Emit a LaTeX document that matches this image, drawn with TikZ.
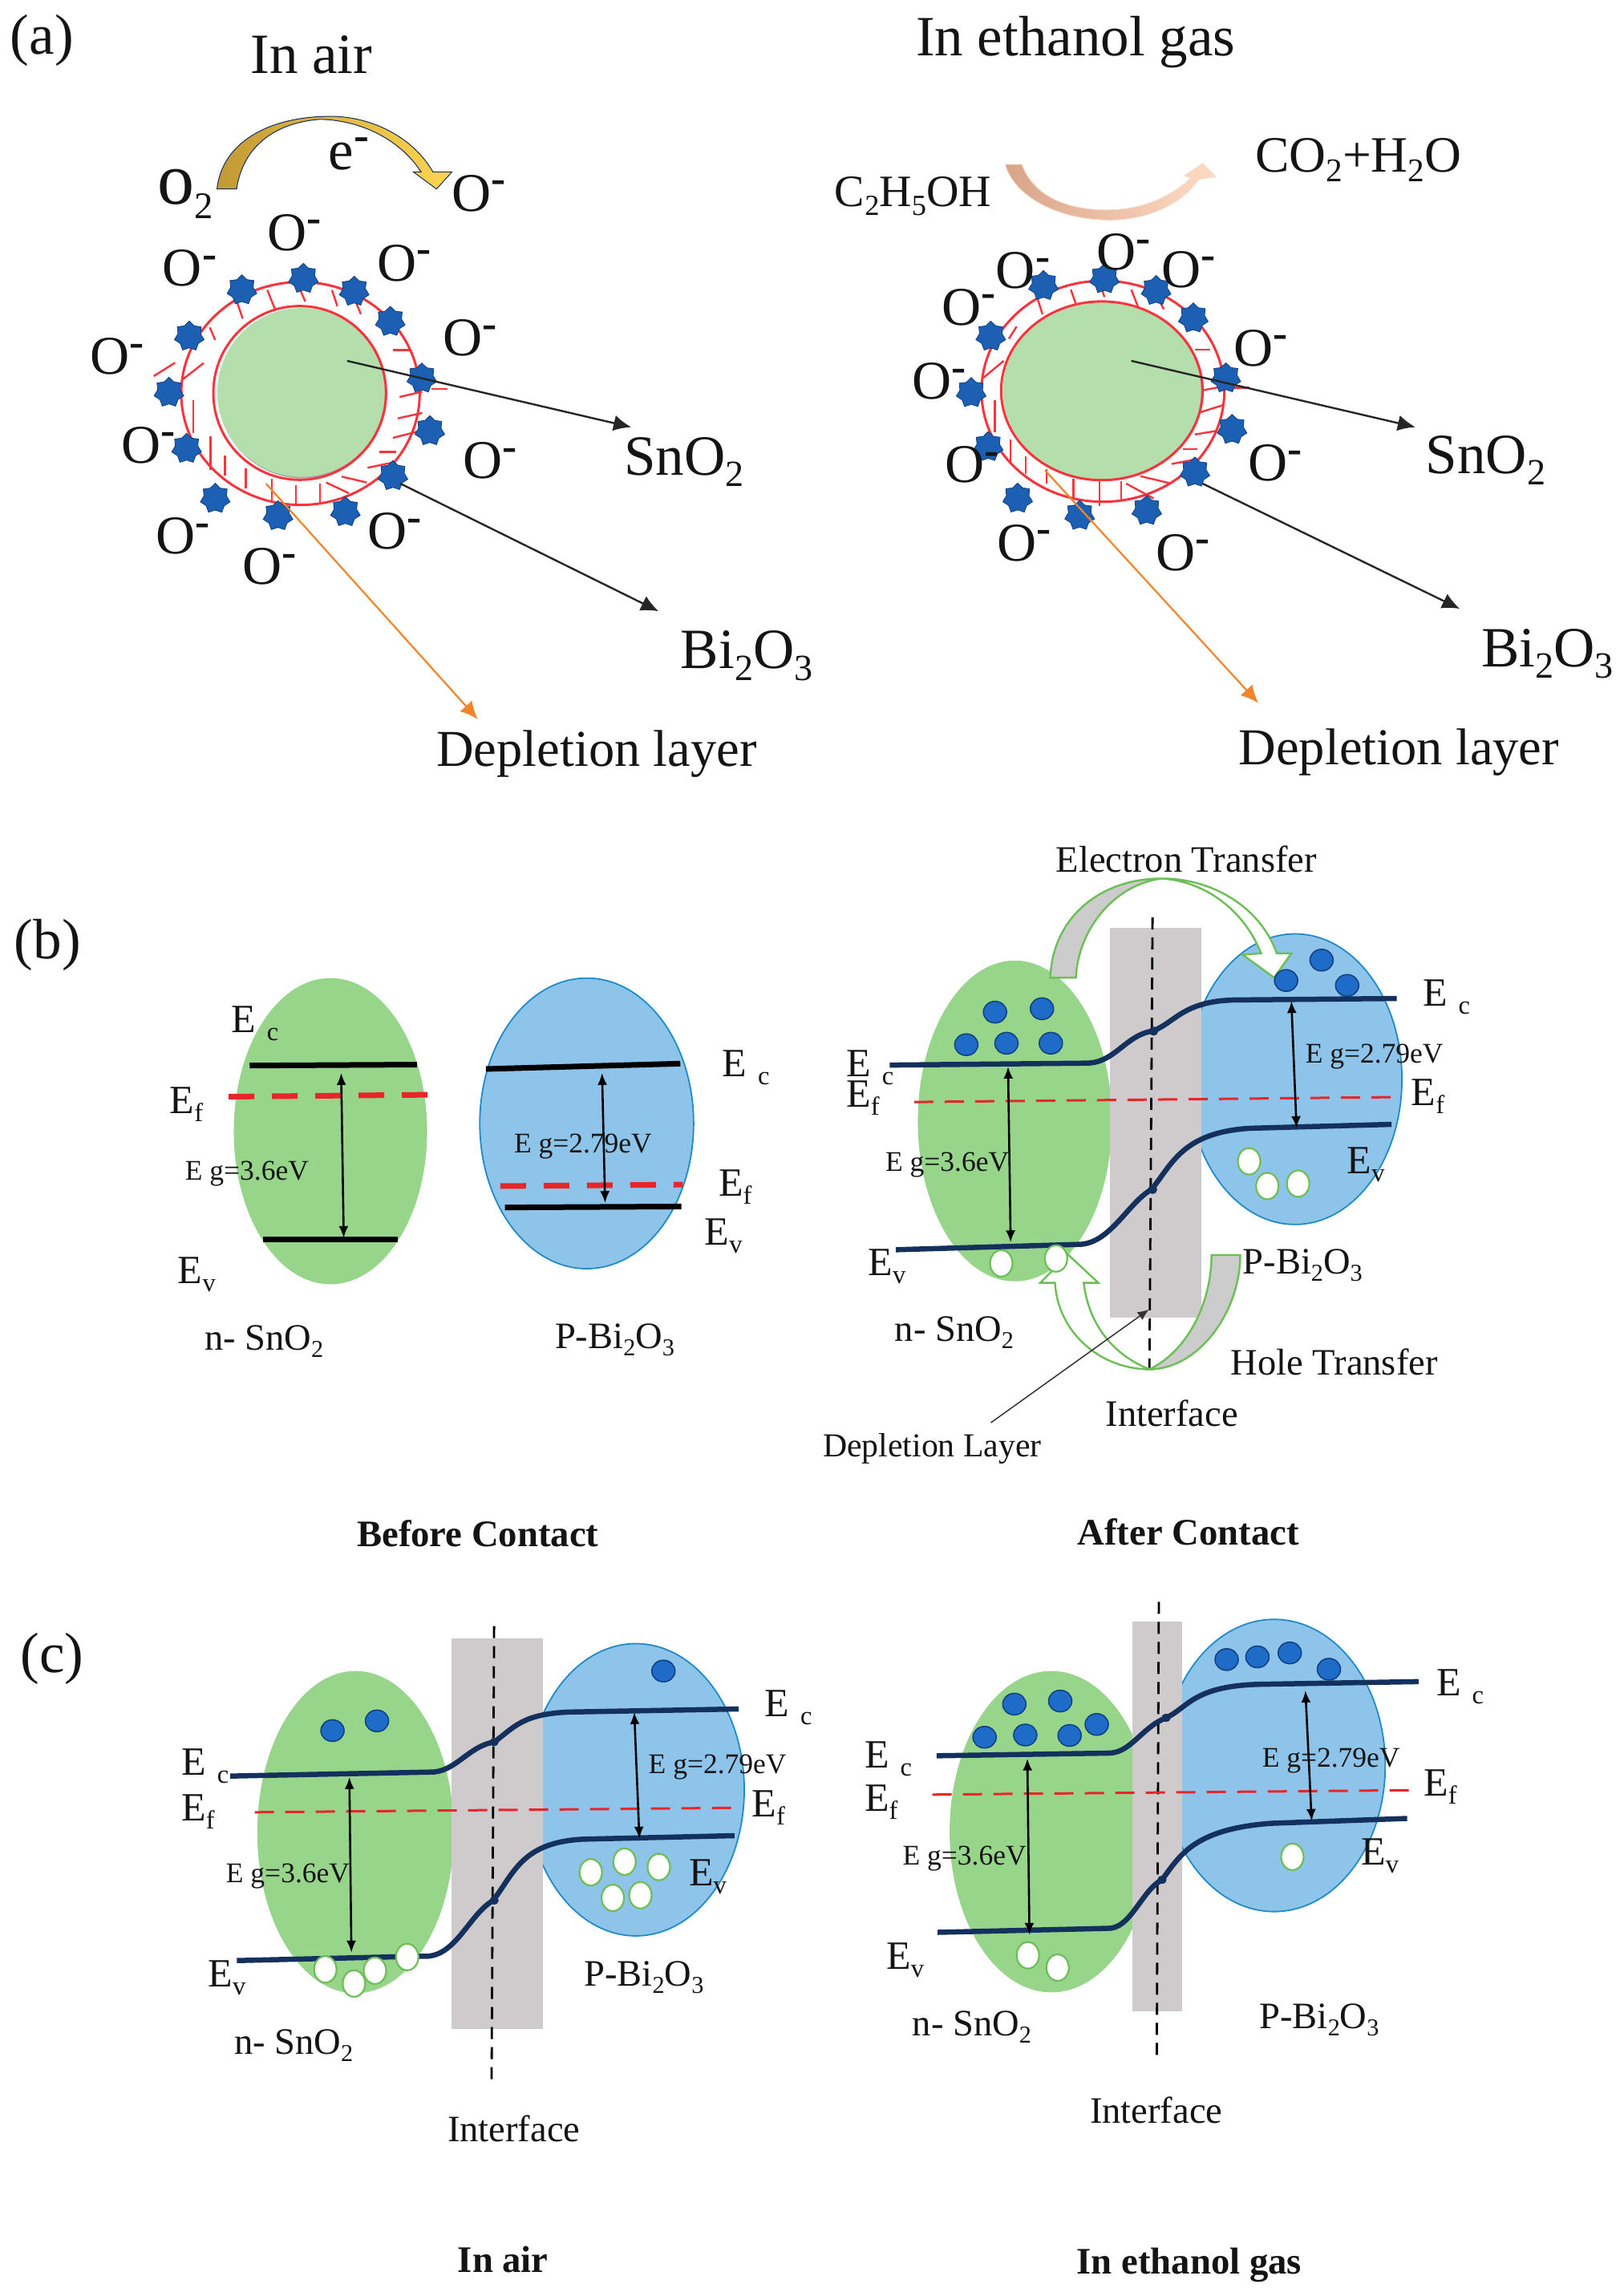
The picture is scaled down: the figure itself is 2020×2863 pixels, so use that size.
\documentclass[tikz,border=0pt]{standalone}
\usepackage{fontspec}
\setmainfont{Liberation Serif}
\usetikzlibrary{arrows.meta,shapes.geometric}
\definecolor{grn}{HTML}{97D58B}
\definecolor{core}{HTML}{B5DEAD}
\definecolor{blu}{HTML}{8EC4EA}
\definecolor{bluedge}{HTML}{1F8BC8}
\definecolor{gry}{HTML}{CFCBCC}
\definecolor{navy}{HTML}{14305C}
\definecolor{redl}{HTML}{E8262A}
\definecolor{ring}{HTML}{F8343C}
\definecolor{elec}{HTML}{1F6BC8}
\definecolor{elecd}{HTML}{0F3F80}
\definecolor{holeg}{HTML}{6CBF55}
\definecolor{orng}{HTML}{F4842A}
\definecolor{golda}{HTML}{C29A35}
\definecolor{goldb}{HTML}{FFD550}
\definecolor{peacha}{HTML}{D8A588}
\definecolor{peachb}{HTML}{FFDCC6}
\newcounter{tn}
\newcommand\dn[1]{\raisebox{-0.2em}{\scalebox{0.65}{#1}}}
\newcommand\up{\raisebox{0.33em}{\scalebox{0.8}{\bfseries -}}}
\newcommand\T[4]{\stepcounter{tn}\node[#1] (t\thetn) at (#2) {#3#4};}
\newcommand\Ec{E\hspace{0.28em}\dn{c}}
\newcommand\Ef{E\dn{f}}
\newcommand\Ev{E\dn{v}}
\newcommand\Sn{n- SnO\dn{2}}
\newcommand\Bi{P-Bi\dn{2}O\dn{3}}
\tikzset{
 base/.style={anchor=base west,inner sep=0pt,outer sep=0pt,text=black!92},
 big/.style={base,font=\fontsize{71}{80}\selectfont},
 oion/.style={base,font=\fontsize{68}{80}\selectfont},
 lab/.style={base,font=\fontsize{46.5}{52}\selectfont},
 dep/.style={base,font=\fontsize{41.8}{48}\selectfont},
 gap/.style={base,font=\fontsize{35.5}{40}\selectfont},
 en/.style={base,font=\fontsize{50}{56}\selectfont},
 hd/.style={base,font=\bfseries\fontsize{46.7}{52}\selectfont},
 za/.style={x=0.6441pt,y=-0.6122pt},
 zb/.style={shift={(1010,0)},x=0.6441pt,y=-0.6122pt},
 zc/.style={shift={(0,1050)},x=0.6378pt,y=-0.6059pt},
 zd/.style={shift={(1000,1030)},x=0.6505pt,y=-0.6059pt},
 ze/.style={shift={(0,2000)},x=0.6378pt,y=-0.5504pt},
 zf/.style={shift={(1000,2000)},x=0.6505pt,y=-0.5504pt},
 zg/.style={shift={(180,320)},x=0.3333pt,y=-0.3333pt},
 greenball/.style={fill=grn,draw=none},
 blueball/.style={fill=blu,draw=bluedge,line width=1.8pt},
 grayband/.style={fill=gry,draw=none},
 bandline/.style={draw=navy,line width=6.5pt},
 blackline/.style={draw=black,line width=7pt},
 fermi/.style={draw=redl,line width=3pt,dash pattern=on 24pt off 14pt},
 fermithick/.style={draw=redl,line width=7pt,dash pattern=on 32pt off 22pt},
 iface/.style={draw=black,line width=2.8pt,dash pattern=on 15pt off 10pt},
 gaparrow/.style={draw=black,line width=2.6pt,{Latex[length=15pt,width=12pt]}-{Latex[length=15pt,width=12pt]}},
 leader/.style={draw=black!85,line width=2.4pt,-{Latex[length=22pt,width=20pt]}},
 leaderor/.style={draw=orng,line width=2.2pt,-{Latex[length=22pt,width=20pt]}},
 hatch/.style={draw=ring,line width=2.4pt},
 ringl/.style={draw=ring,line width=3pt},
 ster/.style={star,star points=7,star point ratio=1.32,inner sep=0pt,minimum size=38pt,fill=elec!90!black,draw=elecd,line width=.8pt},
 elecn/.style={ellipse,inner sep=0pt,minimum width=29pt,minimum height=27pt,fill=elec,draw=elecd,line width=1.5pt},
 holen/.style={ellipse,inner sep=0pt,minimum width=28pt,minimum height=33pt,fill=white,draw=holeg,line width=2.2pt},
 bluntgreen/.style={draw=holeg,line width=2.4pt},
}
\newcommand\bump[2]{\fill[navy] (#1,#2) circle [radius=9];}
\begin{document}
\begin{tikzpicture}[x=1pt,y=-1pt]
\useasboundingbox[fill=white] (0,0) rectangle (2020,2863);

% ---------- panel (a), left
\begin{scope}[zg]
\fill[black!35] (592,512) ellipse [x radius=316,y radius=318];
\fill[core] (588,508) ellipse [x radius=315,y radius=316];
\draw[ringl] (581,510) ellipse [x radius=323,y radius=325];
\draw[ringl] (584,512) ellipse [x radius=446,y radius=417];
\foreach \a/\b/\c/\d in {345/165/368/232,460/125/488/195,575/105/602/168,702/125/722/185,785/155/810/215,890/240/910/285,930/350/995/350,245/265/265/312,35/447/115/397,145/458/222/398,183/538/183/660,248/672/248/797,302/745/302/820,380/792/380/868,477/832/477/912,567/855/567/930,657/848/657/925,680/845/765/885,738/823/832/845,835/790/930/770,880/730/942/730,930/678/1020/655,948/605/1040/585,955/525/1040/505,1075/495/1135/495}
  \draw[hatch] (\a,\b) -- (\c,\d);
\foreach \a/\b [count=\i] in {595/82,365/125,785/130,920/243,168/298,92/508,1038/455,1068/652,158/718,930/820,265/905,500/970,752/955}
  \node[ster] (sa\i) at (\a,\b) {};
\end{scope}
\begin{scope}[za]
\T{big}{20,110}{(a)}{}
\T{big}{485,150}{In air}{}
\T{base,font=\fontsize{92}{96}\selectfont}{305,415}{o\dn{\fontsize{72}{72}\selectfont 2}}{}
\T{big}{636,345}{e}{\up}
\foreach \a/\b in {875/430,517/510,315/583,730/572,857/725,175/762,235/943,897/975,302/1128,712/1118,470/1190}
  {\T{oion}{\a,\b}{O}{\up}}
\T{big}{1208,968}{SnO\dn{2}}{}
\T{big}{1318,1362}{Bi\dn{2}O\dn{3}}{}
\T{base,font=\fontsize{64.5}{70}\selectfont}{845,1560}{Depletion layer}{}
\fill[left color=golda,right color=goldb,draw=navy,line width=1pt]
 (420,385) .. controls (430,290) and (520,237) .. (640,237) .. controls (720,237) and (800,280) .. (838,350) -- (875,350) -- (845,385) -- (800,350) -- (815,350) .. controls (775,285) and (700,245) .. (620,243) .. controls (530,250) and (470,300) .. (458,385) -- cycle;
\coordinate (la1) at (672,735); \coordinate (la2) at (1222,870);
\coordinate (lb1) at (775,985); \coordinate (lb2) at (1275,1245);
\coordinate (lc1) at (515,985); \coordinate (lc2) at (925,1465);
\draw[leader] (la1) -- (la2);
\draw[leader] (lb1) -- (lb2);
\draw[leaderor] (lc1) -- (lc2);
\end{scope}

% ---------- panel (a), right
\begin{scope}[zb]
\fill[black!35] (567,798) ellipse [x radius=192,y radius=180];
\fill[core] (565,796) ellipse [x radius=192,y radius=180];
\draw[ringl] (565,796) ellipse [x radius=195,y radius=182];
\draw[ringl] (567,797) ellipse [x radius=235,y radius=225];
\foreach \a/\b/\c/\d in {438/600/450/640,505/590/515/620,562/578/570/605,622/590/635/625,670/600/685/630,722/650/735/670,745/712/775/712,385/690/400/665,335/770/375/735,358/815/358/880,388/895/388/945,418/930/418/965,458/955/458/985,510/975/510/1015,560/980/560/1030,602/980/602/1020,612/985/665/1015,640/970/700/985,700/945/750/935,722/915/750/915,745/885/785/878,755/840/800/825,760/795/810/785,820/790/850/790}
  \draw[hatch] (\a,\b) -- (\c,\d);
\foreach \a/\b [count=\i] in {452/582,570/568,670/592,742/648,350/685,805/770,312/800,817/875,345/910,745/962,402/1015,522/1050,652/1040}
  \node[ster] (sb\i) at (\a,\b) {};
\T{big}{205,113}{In ethanol gas}{}
\T{base,font=\fontsize{56}{60}\selectfont}{48,420}{C\dn{2}H\dn{5}OH}{}
\T{base,font=\fontsize{63.5}{70}\selectfont}{862,350}{CO\dn{2}+H\dn{2}O}{}
\foreach \a/\b in {360/588,555/550,680/585,255/662,820/745,198/813,262/983,848/980,362/1142,670/1162}
  {\T{oion}{\a,\b}{O}{\up}}
\T{big}{1192,965}{SnO\dn{2}}{}
\T{big}{1300,1358}{Bi\dn{2}O\dn{3}}{}
\T{base,font=\fontsize{64.5}{70}\selectfont}{830,1558}{Depletion layer}{}
\fill[left color=peacha,right color=peachb,draw=peachb,line width=.8pt]
 (378,335) .. controls (395,400) and (480,448) .. (580,448) .. controls (660,448) and (725,410) .. (752,365) -- (785,360) -- (760,333) -- (725,358) -- (738,362) .. controls (690,410) and (630,428) .. (570,428) .. controls (480,425) and (430,390) .. (410,335) -- cycle;
\coordinate (ra1) at (622,735); \coordinate (ra2) at (1172,870);
\coordinate (rb1) at (760,985); \coordinate (rb2) at (1258,1240);
\coordinate (rc1) at (455,958); \coordinate (rc2) at (868,1432);
\draw[leader] (ra1) -- (ra2);
\draw[leader] (rb1) -- (rb2);
\draw[leaderor] (rc1) -- (rc2);
\end{scope}

% ---------- panel (b), before contact
\begin{scope}[zc]
\fill[greenball] (646,595) ellipse [x radius=189,y radius=315];
\filldraw[blueball] (1147,579) ellipse [x radius=209,y radius=299];
\draw[blackline] (488,460) -- (815,458);
\draw[blackline] (514,818) -- (778,818);
\draw[blackline] (950,467) -- (1330,456);
\draw[blackline] (987,752) -- (1332,750);
\draw[fermithick] (447,524) -- (842,520);
\draw[fermithick] (978,708) -- (1335,705);
\coordinate (b1a) at (667,475); \coordinate (b1b) at (672,815);
\coordinate (b2a) at (1177,475); \coordinate (b2b) at (1183,743);
\draw[gaparrow] (b1a) -- (b1b);
\draw[gaparrow] (b2a) -- (b2b);
\T{big}{28,240}{(b)}{}
\T{en}{452,392}{\Ec}{}
\T{en}{332,558}{\Ef}{}
\T{en}{348,908}{\Ev}{}
\T{en}{1412,482}{\Ec}{}
\T{en}{1405,728}{\Ef}{}
\T{en}{1378,830}{\Ev}{}
\T{gap}{362,695}{E g=3.6eV}{}
\T{gap}{1005,640}{E g=2.79eV}{}
\T{lab}{400,1045}{\Sn}{}
\T{lab}{1085,1042}{\Bi}{}
\T{hd}{698,1450}{Before Contact}{}
\end{scope}

% ---------- panel (b), after contact
\begin{scope}[zd]
\fill[greenball] (408,607) ellipse [x radius=186,y radius=330];
\filldraw[blueball] (945,521) ellipse [x radius=205,y radius=299];
\fill[grayband] (590,210) rectangle (765,1012);
\draw[iface] (672,188) -- (666,1115);
% electron transfer arrow
\filldraw[bluntgreen,fill=black!20] (476,312) .. controls (480,190) and (570,108) .. (690,108) .. controls (600,120) and (530,210) .. (525,312) -- cycle;
\filldraw[bluntgreen,fill=white] (690,108) .. controls (790,108) and (880,170) .. (910,262) -- (938,262) -- (905,312) -- (845,265) -- (880,262) .. controls (850,180) and (780,115) .. (690,108) -- cycle;
% hole transfer arrow
\filldraw[bluntgreen,fill=black!20] (666,1118) .. controls (760,1118) and (840,1000) .. (840,883) -- (785,883) .. controls (785,980) and (740,1080) .. (666,1118) -- cycle;
\filldraw[bluntgreen,fill=white] (666,1118) .. controls (570,1118) and (490,1040) .. (485,940) -- (457,940) -- (510,882) -- (568,940) -- (540,940) .. controls (550,1030) and (600,1090) .. (666,1118) -- cycle;
\draw[bandline] (168,492) -- (545,488) .. controls (600,488) and (620,430) .. (672,422) .. controls (715,405) and (730,360) .. (830,358) -- (1140,355);
\draw[bandline] (180,872) -- (530,861) .. controls (590,861) and (625,775) .. (670,748) .. controls (710,695) and (730,630) .. (860,622) -- (1130,614);
\bump{674}{422}\bump{672}{748}
\draw[fermi] (215,568) -- (1128,558);
\coordinate (d1a) at (395,495); \coordinate (d1b) at (400,857);
\coordinate (d2a) at (938,360); \coordinate (d2b) at (948,622);
\draw[gaparrow] (d1a) -- (d1b);
\draw[gaparrow] (d2a) -- (d2b);
\foreach \a/\b [count=\i] in {370/383,460/376,315/450,392/447,477/447,928/318,996/276,1045/328}
  \node[elecn] (de\i) at (\a,\b) {};
\foreach \a/\b [count=\i] in {382/900,487/890,857/690,892/741,951/736}
  \node[holen] (dh\i) at (\a,\b) {};
\T{en}{85,515}{\Ec}{}
\T{en}{85,578}{\Ef}{}
\T{en}{1190,370}{\Ec}{}
\T{en}{1168,575}{\Ef}{}
\T{en}{1045,715}{\Ev}{}
\T{en}{127,925}{\Ev}{}
\T{gap}{160,710}{E g=3.6eV}{}
\T{gap}{965,488}{E g=2.79eV}{}
\T{lab}{845,922}{\Bi}{}
\T{lab}{178,1060}{\Sn}{}
\T{lab}{487,95}{Electron Transfer}{}
\T{lab}{822,1130}{Hole Transfer}{}
\T{lab}{582,1235}{Interface}{}
\T{dep}{40,1298}{Depletion Layer}{}
\T{hd}{528,1480}{After Contact}{}
\coordinate (dp1) at (362,1228); \coordinate (dp2) at (665,995);
\draw[draw=black!80,line width=1.5pt,-{Latex[length=14pt,width=12pt]}] (dp1) -- (dp2);
\end{scope}

% ---------- panel (c), in air
\begin{scope}[ze]
\fill[greenball] (695,517) ellipse [x radius=192,y radius=365];
\filldraw[blueball] (1243,421) ellipse [x radius=212,y radius=331];
\fill[grayband] (882,78) rectangle (1062,963);
\draw[iface] (966,50) -- (961,1085);
\draw[bandline] (450,390) -- (840,381) .. controls (890,383) and (915,322) .. (966,313) .. controls (1005,280) and (1020,250) .. (1110,245) -- (1444,238);
\draw[bandline] (463,808) -- (825,798) .. controls (890,805) and (915,705) .. (964,672) .. controls (1005,610) and (1020,540) .. (1140,533) -- (1436,525);
\bump{966}{313}\bump{966}{672}
\draw[fermi] (498,472) -- (1432,462);
\coordinate (e1a) at (683,392); \coordinate (e1b) at (687,790);
\coordinate (e2a) at (1240,245); \coordinate (e2b) at (1250,532);
\draw[gaparrow] (e1a) -- (e1b);
\draw[gaparrow] (e2a) -- (e2b);
\foreach \a/\b [count=\i] in {650/287,737/265,1297/152}
  \node[elecn] (ee\i) at (\a,\b) {};
\foreach \a/\b [count=\i] in {636/828,692/860,733/831,796/800,1155/608,1221/584,1288/596,1198/666,1252/660}
  \node[holen] (eh\i) at (\a,\b) {};
\T{big}{40,155}{(c)}{}
\T{en}{355,388}{\Ec}{}
\T{en}{355,492}{\Ef}{}
\T{en}{1495,255}{\Ec}{}
\T{en}{1470,483}{\Ef}{}
\T{en}{1347,638}{\Ev}{}
\T{en}{407,867}{\Ev}{}
\T{gap}{442,632}{E g=3.6eV}{}
\T{gap}{1268,385}{E g=2.79eV}{}
\T{lab}{1142,865}{\Bi}{}
\T{lab}{458,1020}{\Sn}{}
\T{lab}{875,1218}{Interface}{}
\T{hd}{895,1515}{In air}{}
\end{scope}

% ---------- panel (c), in ethanol gas
\begin{scope}[zf]
\fill[greenball] (478,516) ellipse [x radius=195,y radius=364];
\filldraw[blueball] (905,366) ellipse [x radius=213,y radius=331];
\fill[grayband] (633,40) rectangle (729,923);
\draw[iface] (684,-5) -- (680,1030);
\draw[bandline] (258,344) -- (585,338) .. controls (630,340) and (650,280) .. (698,258) .. controls (740,235) and (750,185) .. (880,182) -- (1182,176);
\draw[bandline] (260,744) -- (585,735) .. controls (630,738) and (650,650) .. (690,625) .. controls (725,570) and (750,510) .. (900,497) -- (1160,486);
\bump{698}{258}\bump{690}{625}
\draw[fermi] (250,432) -- (1165,422);
\coordinate (f1a) at (432,350); \coordinate (f1b) at (436,750);
\coordinate (f2a) at (965,196); \coordinate (f2b) at (977,492);
\draw[gaparrow] (f1a) -- (f1b);
\draw[gaparrow] (f2a) -- (f2b);
\foreach \a/\b [count=\i] in {407/227,495/220,350/302,428/297,513/298,565/273,814/126,873/120,935/111,1010/148}
  \node[elecn] (fe\i) at (\a,\b) {};
\foreach \a/\b [count=\i] in {433/796,490/824,940/573}
  \node[holen] (fh\i) at (\a,\b) {};
\T{en}{120,372}{\Ec}{}
\T{en}{120,470}{\Ef}{}
\T{en}{1216,208}{\Ec}{}
\T{en}{1192,435}{\Ef}{}
\T{en}{1072,592}{\Ev}{}
\T{en}{162,828}{\Ev}{}
\T{gap}{193,592}{E g=3.6eV}{}
\T{gap}{882,370}{E g=2.79eV}{}
\T{lab}{877,962}{\Bi}{}
\T{lab}{212,978}{\Sn}{}
\T{lab}{552,1177}{Interface}{}
\T{hd}{527,1518}{In ethanol gas}{}
\end{scope}
\end{tikzpicture}
\end{document}
